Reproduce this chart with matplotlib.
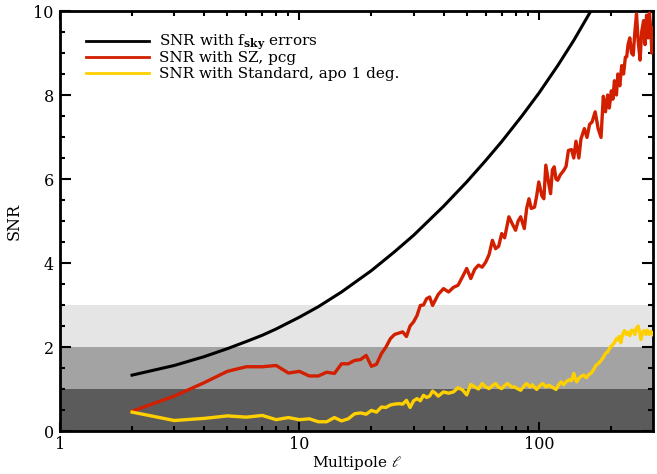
import matplotlib
matplotlib.use("Agg")
import matplotlib.pyplot as plt
from matplotlib.ticker import FixedLocator, NullFormatter, MultipleLocator, FixedFormatter

plt.rcParams['font.family'] = ['DejaVu Serif', 'DejaVu Sans']
plt.rcParams['mathtext.fontset'] = 'dejavuserif'

# ---- data ----
l_fsky = [2, 3, 4, 5, 6, 7, 8, 10, 12, 15, 20, 25, 30, 40, 50, 60, 70, 85, 100, 120, 140, 165, 180]
snr_fsky = [1.33, 1.56, 1.77, 1.96, 2.13, 2.28, 2.43, 2.71, 2.96, 3.31, 3.82, 4.27, 4.66, 5.35,
            5.93, 6.44, 6.89, 7.50, 8.04, 8.70, 9.30, 10.0, 10.4]

l_sz = [2, 3, 4, 5, 6, 7, 8, 9, 10, 11, 12, 13, 14, 15, 16, 17, 18, 19, 20, 21, 22, 23, 24, 25, 26,
        27, 28, 29, 30, 31, 32, 33, 34, 35, 36, 38, 40, 42, 44, 46, 48, 50, 52, 54, 56, 58, 60, 62,
        64, 66, 68, 70, 72, 75, 78, 80, 82, 84, 87, 89, 91, 93, 96, 98, 100, 103, 105, 107, 110,
        112, 114, 116, 118, 120, 123, 127, 130, 133, 137, 140, 143, 147, 150, 155, 159, 163, 167,
        172, 177, 182, 186, 190, 194, 197, 201, 204, 207, 211, 214, 218, 222, 226, 230, 233, 236,
        240, 244, 248, 252, 256, 260, 265, 269, 274, 278, 282, 286, 290, 294, 297, 300]
snr_sz = [0.47, 0.83, 1.15, 1.42, 1.53, 1.53, 1.56, 1.38, 1.42, 1.31, 1.31, 1.40, 1.37, 1.60, 1.60,
          1.68, 1.70, 1.80, 1.54, 1.59, 1.84, 2.0, 2.2, 2.3, 2.33, 2.36, 2.25, 2.5, 2.6, 2.75, 2.99,
          3.0, 3.15, 3.19, 2.99, 3.25, 3.39, 3.31, 3.42, 3.47, 3.67, 3.87, 3.63, 3.85, 3.95, 3.9,
          4.02, 4.2, 4.54, 4.34, 4.4, 4.7, 4.6, 5.1, 4.9, 4.78, 5.0, 5.1, 4.82, 5.3, 5.53, 5.3, 5.33,
          5.6, 5.93, 5.6, 5.53, 6.33, 5.9, 5.65, 6.22, 6.29, 6.0, 5.97, 6.1, 6.2, 6.3, 6.68, 6.7,
          6.5, 6.9, 6.5, 6.95, 7.2, 6.99, 7.3, 7.36, 7.6, 7.2, 6.99, 7.97, 7.6, 8.0, 7.69, 8.1, 7.9,
          8.34, 8.0, 8.5, 8.22, 8.7, 8.5, 8.9, 8.91, 9.2, 9.36, 9.0, 8.95, 9.5, 9.93, 9.3, 8.83,
          9.5, 9.77, 9.2, 9.9, 9.36, 9.95, 9.5, 9.0, 9.6]

l_std = [2, 3, 4, 5, 6, 7, 8, 9, 10, 11, 12, 13, 14, 15, 16, 17, 18, 19, 20, 21, 22, 23, 24, 25,
         26, 27, 28, 29, 30, 31, 32, 33, 34, 35, 36, 37, 38, 40, 42, 44, 46, 48, 50, 52, 54, 56, 58,
         60, 62, 64, 66, 68, 70, 72, 74, 77, 79, 82, 84, 87, 89, 92, 94, 96, 98, 101, 104, 107, 110,
         114, 118, 121, 124, 127, 130, 134, 137, 140, 142, 144, 147, 150, 154, 158, 162, 165, 169,
         173, 177, 182, 186, 190, 194, 198, 203, 207, 211, 214, 217, 220, 224, 228, 232, 236, 240,
         244, 248, 252, 256, 260, 264, 267, 271, 276, 280, 284, 289, 294, 300]
snr_std = [0.45, 0.25, 0.30, 0.36, 0.33, 0.37, 0.27, 0.32, 0.27, 0.29, 0.22, 0.22, 0.32, 0.24, 0.29,
           0.41, 0.43, 0.40, 0.49, 0.45, 0.57, 0.56, 0.62, 0.64, 0.65, 0.64, 0.73, 0.56, 0.72, 0.77,
           0.72, 0.85, 0.80, 0.83, 0.95, 0.90, 0.83, 0.93, 0.90, 0.93, 1.03, 0.98, 0.86, 1.11, 1.05,
           1.0, 1.13, 1.05, 1.01, 1.08, 1.13, 1.04, 1.01, 1.08, 1.13, 1.05, 1.05, 1.0, 0.97, 1.08,
           1.13, 1.05, 1.10, 1.04, 0.99, 1.08, 1.13, 1.05, 1.09, 1.04, 0.99, 1.1, 1.17, 1.1, 1.17,
           1.22, 1.2, 1.37, 1.25, 1.17, 1.25, 1.3, 1.33, 1.27, 1.35, 1.37, 1.45, 1.56, 1.6, 1.68,
           1.75, 1.85, 1.88, 1.98, 2.05, 2.1, 2.2, 2.17, 2.25, 2.1, 2.3, 2.39, 2.3, 2.35, 2.27, 2.4,
           2.39, 2.3, 2.45, 2.5, 2.35, 2.18, 2.35, 2.39, 2.3, 2.4, 2.3, 2.37, 2.3]

bands = [(0, 1, '#5b5b5b'), (1, 2, '#a3a3a3'), (2, 3, '#e5e5e5')]
labels = [r'SNR with f$_{\mathbf{sky}}$ errors', 'SNR with SZ, pcg', 'SNR with Standard, apo 1 deg.']
colors = ['black', '#d11f00', '#ffd000']
xtick_vals = [1, 10, 100]
xtick_labels = ['1', '10', '100']

# ---- figure ----
fig = plt.figure(figsize=(6.57, 4.74), dpi=100)
ax = fig.add_axes([60 / 657, 1 - 431 / 474, (653 - 60) / 657, (431 - 11) / 474])

for lo, hi, c in bands:
    ax.axhspan(lo, hi, color=c, lw=0, zorder=0)

ax.plot(l_fsky, snr_fsky, color=colors[0], lw=2.2, zorder=3)
ax.plot(l_sz, snr_sz, color=colors[1], lw=2.4, zorder=3)
ax.plot(l_std, snr_std, color=colors[2], lw=2.4, zorder=3)

ax.set_xscale('log')
ax.set_xlim(1, 300)
ax.set_ylim(0, 10)

ax.xaxis.set_major_locator(FixedLocator(xtick_vals))
ax.xaxis.set_major_formatter(FixedFormatter(xtick_labels))
minors = [m * d for d in (1, 10, 100) for m in range(2, 10) if m * d < 300]
ax.xaxis.set_minor_locator(FixedLocator(minors))
ax.xaxis.set_minor_formatter(NullFormatter())
ax.yaxis.set_major_locator(MultipleLocator(2))
ax.yaxis.set_minor_locator(MultipleLocator(0.5))

ax.tick_params(which='both', direction='in', top=True, right=True, width=1.5, labelsize=11.5,
               colors='black')
ax.tick_params(axis='x', which='major', length=6.5, pad=3.5)
ax.tick_params(axis='x', which='minor', length=3.5)
ax.tick_params(axis='y', which='major', length=8, pad=4.5)
ax.tick_params(axis='y', which='minor', length=3.5)
for s in ax.spines.values():
    s.set_linewidth(2)

ax.set_xlabel(r'Multipole $\ell$', fontsize=11, labelpad=1)
ax.set_ylabel('SNR', fontsize=11.5, labelpad=8)

# legend (key lines + labels), rows placed in axes fraction
key_x0, key_x1, text_x = 0.044, 0.150, 0.167
row_y = [0.9286, 0.890, 0.852]
for lab, col, y in zip(labels, colors, row_y):
    ax.plot([key_x0, key_x1], [y, y], color=col, lw=2.0, transform=ax.transAxes, zorder=4)
    ax.text(text_x, y - 0.0105, lab, transform=ax.transAxes, va='baseline', ha='left',
            fontsize=11, zorder=4)

fig.savefig('out.png', dpi=100)
